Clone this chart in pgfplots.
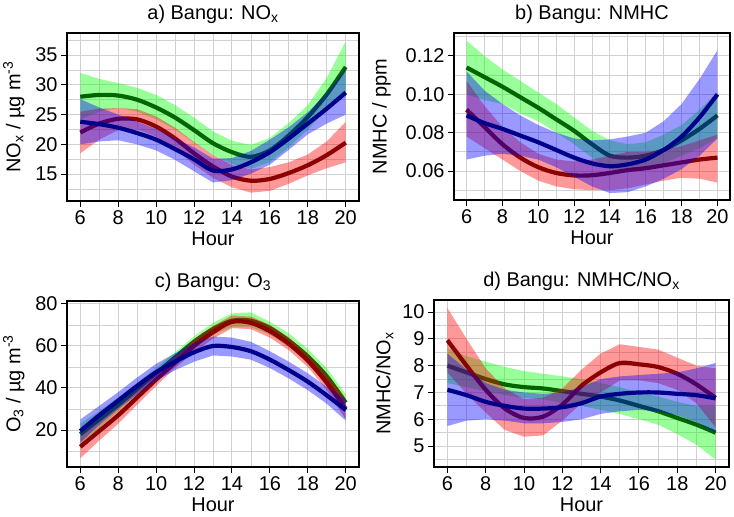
\documentclass[border=0pt]{standalone}
\usepackage{fontspec}
\setmainfont{Liberation Sans}
\usepackage{pgfplots}
\pgfplotsset{compat=1.18}
\usepackage{pgfplotstable}

\definecolor{lgrid}{gray}{0.82}
\definecolor{dgreen}{HTML}{006400}
\definecolor{dred}{HTML}{8B0000}
\definecolor{dblue}{HTML}{00008B}

% fitted curves (g = green, r = red, b = blue)
\pgfplotstableread{
h  g    r    b
6  28.0 22.0 23.8
7  28.3 23.5 23.4
8  28.2 24.3 22.8
9  27.5 24.2 21.9
10 26.2 23.0 20.8
11 24.5 21.0 19.2
12 22.4 18.5 17.5
13 20.2 16.3 15.6
14 18.7 14.6 15.8
15 17.9 13.9 17.0
16 19.0 14.2 18.7
17 21.5 15.2 21.0
18 24.6 16.5 23.5
19 28.4 18.2 26.0
20 33.0 20.3 28.7
}\noxfit
% confidence bands: upper edge 6->20, then lower edge 20->6
\pgfplotstableread{
h  g    r    b
6  32.0 25.5 27.6
7  31.0 26.0 26.2
8  30.3 26.1 25.0
9  29.5 25.9 23.8
10 28.3 24.7 22.6
11 26.6 22.8 21.0
12 24.5 20.4 19.5
13 22.2 18.2 17.6
14 20.6 16.5 17.7
15 19.9 15.8 18.9
16 21.1 16.2 20.8
17 23.6 17.0 22.9
18 26.6 18.3 25.4
19 31.2 20.5 28.6
20 37.3 23.8 32.6
20 29.0 17.0 25.0
19 25.8 16.0 23.5
18 22.5 14.8 21.7
17 19.5 13.4 19.1
16 17.0 12.2 16.6
15 15.9 11.9 15.1
14 16.7 12.8 14.0
13 18.2 14.4 13.6
12 20.3 16.6 15.5
11 22.5 19.2 17.4
10 24.2 21.3 19.0
9  25.5 22.5 20.0
8  26.1 22.4 20.7
7  25.5 20.8 20.5
6  24.2 18.5 20.0
}\noxband

\pgfplotstableread{
h  g      r      b
6  0.114  0.092  0.089
7  0.109  0.083  0.085
8  0.104  0.074  0.082
9  0.0985 0.067  0.0785
10 0.093  0.062  0.075
11 0.087  0.059  0.071
12 0.081  0.0577 0.067
13 0.074  0.0578 0.064
14 0.068  0.059  0.0625
15 0.067  0.0605 0.0635
16 0.068  0.0615 0.066
17 0.071  0.063  0.071
18 0.076  0.0645 0.078
19 0.082  0.066  0.088
20 0.089  0.067  0.100
}\nmhcfit
\pgfplotstableread{
h  g     r      b
6  0.128 0.107  0.112
7  0.120 0.094  0.102
8  0.113 0.083  0.095
9  0.107 0.075  0.089
10 0.101 0.069  0.084
11 0.095 0.066  0.080
12 0.088 0.065  0.077
13 0.081 0.066  0.076
14 0.076 0.068  0.0765
15 0.074 0.070  0.078
16 0.075 0.070  0.080
17 0.079 0.071  0.086
18 0.084 0.073  0.095
19 0.092 0.076  0.108
20 0.101 0.079  0.123
20 0.077 0.054  0.077
19 0.072 0.056  0.068
18 0.068 0.0565 0.061
17 0.064 0.055  0.056
16 0.061 0.053  0.052
15 0.060 0.051  0.049
14 0.061 0.050  0.0485
13 0.067 0.050  0.052
12 0.074 0.0505 0.057
11 0.080 0.052  0.062
10 0.086 0.055  0.066
9  0.090 0.060  0.068
8  0.095 0.066  0.069
7  0.097 0.072  0.068
6  0.100 0.078  0.066
}\nmhcband

\pgfplotstableread{
h  g    r    b
6  18.0 12.0 19.5
7  25.0 19.5 27.0
8  32.0 27.0 34.0
9  39.5 35.5 41.0
10 47.0 44.0 47.5
11 54.5 52.0 52.5
12 62.0 60.0 57.0
13 68.0 66.5 60.0
14 72.0 71.5 59.5
15 72.0 71.0 57.5
16 68.5 67.0 53.5
17 62.5 61.0 48.5
18 55.0 53.0 43.0
19 45.5 42.5 36.5
20 33.0 30.0 29.5
}\othreefit
\pgfplotstableread{
h  g    r    b
6  23.0 17.5 25.0
7  29.0 24.0 31.5
8  35.5 31.0 38.0
9  42.5 39.0 45.0
10 49.5 47.0 51.5
11 57.0 55.0 56.5
12 64.5 63.0 61.5
13 71.0 69.5 64.5
14 75.5 74.5 64.0
15 76.0 74.0 62.0
16 71.5 70.0 57.5
17 66.0 64.0 52.5
18 58.5 56.0 47.0
19 49.5 46.5 40.5
20 37.0 35.0 34.5
20 29.0 25.0 24.5
19 42.0 39.0 32.5
18 52.0 50.0 39.0
17 59.5 58.0 44.5
16 65.5 64.0 49.5
15 69.0 68.0 53.5
14 69.0 68.5 55.0
13 65.5 63.5 55.5
12 59.5 57.0 52.5
11 52.0 49.5 48.5
10 44.5 41.0 43.5
9  37.0 32.0 37.0
8  29.0 23.0 30.0
7  21.0 15.0 22.5
6  13.0 6.5  14.0
}\othreeband

\pgfplotstableread{
h  g    r    b
6  8.00 8.95 7.10
7  7.75 8.00 6.90
8  7.50 7.10 6.65
9  7.30 6.40 6.50
10 7.20 6.05 6.40
11 7.15 6.10 6.40
12 7.05 6.55 6.45
13 6.95 7.25 6.60
14 6.85 7.75 6.85
15 6.70 8.10 6.95
16 6.50 8.05 7.00
17 6.30 7.95 7.00
18 6.05 7.70 6.95
19 5.80 7.30 6.90
20 5.50 6.80 6.78
}\ratiofit
\pgfplotstableread{
h  g    r     b
6  8.65 10.15 8.45
7  8.35 9.00  7.85
8  8.15 7.90  7.35
9  7.95 7.15  7.10
10 7.80 6.75  7.00
11 7.70 6.80  6.95
12 7.60 7.15  7.00
13 7.50 7.85  7.20
14 7.35 8.45  7.50
15 7.20 8.80  7.60
16 7.00 8.70  7.65
17 6.85 8.60  7.70
18 6.65 8.30  7.75
19 6.50 8.00  7.90
20 6.50 7.90  8.10
20 4.50 5.70  5.50
19 5.05 6.60  5.90
18 5.45 7.10  6.15
17 5.80 7.35  6.30
16 6.00 7.45  6.35
15 6.20 7.45  6.30
14 6.35 7.00  6.20
13 6.50 6.60  6.00
12 6.60 5.95  5.90
11 6.75 5.40  5.85
10 6.80 5.35  5.85
9  6.90 5.60  5.95
8  7.05 6.25  6.00
7  7.20 6.95  5.95
6  7.35 7.75  5.75
}\ratioband

\pgfplotsset{
  panel/.style={
    scale only axis, anchor=south west,
    xmin=5.3, xmax=20.7,
    xtick={6,8,...,20}, minor xtick={7,9,...,19},
    grid=both,
    major grid style={lgrid, line width=1bp},
    minor grid style={lgrid, line width=0.8bp},
    axis line style={black, line width=1.3bp},
    tick align=outside, major tick length=6bp, minor tick length=0pt,
    major tick style={black, line width=1bp},
    xtick pos=left, ytick pos=left,
    ticklabel style={font=\fontsize{20}{22}\selectfont},
    label style={font=\fontsize{20}{22}\selectfont},
    title style={font=\fontsize{20}{22}\selectfont},
    ylabel shift=4bp,
    xlabel={Hour},
    /pgf/number format/assume math mode=true,
  },
}

% band then fitted line for one group: #1 band table, #2 fit table, #3 column, #4 band colour, #5 line colour
\newcommand{\grp}[5]{%
  \addplot[fill=#4, fill opacity=0.4, draw=none] table[x=h, y=#3] {#1};
  \addplot[#5, line width=4.2bp, smooth] table[x=h, y=#3] {#2};
}

\begin{document}
\begin{tikzpicture}
\path[use as bounding box] (0,0) rectangle (734bp,517bp);

\begin{axis}[panel, at={(67bp,316bp)}, width=292bp, height=168bp,
    ymin=10.5, ymax=38.7,
    ytick={15,20,...,35}, minor ytick={12.5,17.5,...,37.5},
    title={a) Bangu: NO\textsubscript{x}},
    ylabel={NO\textsubscript{x} / µg m\textsuperscript{-3}}]
\grp{\noxband}{\noxfit}{g}{green}{dgreen}
\grp{\noxband}{\noxfit}{r}{red}{dred}
\grp{\noxband}{\noxfit}{b}{blue}{dblue}
\end{axis}

\begin{axis}[panel, at={(454bp,317bp)}, width=276bp, height=167bp,
    ymin=0.0449, ymax=0.132,
    ytick={0.06,0.08,0.10,0.12}, minor ytick={0.05,0.07,0.09,0.11,0.13},
    yticklabel style={/pgf/number format/.cd, fixed, fixed zerofill, precision=2},
    scaled y ticks=false, ylabel shift=8bp,
    title={b) Bangu: NMHC},
    ylabel={NMHC / ppm}]
\grp{\nmhcband}{\nmhcfit}{g}{green}{dgreen}
\grp{\nmhcband}{\nmhcfit}{r}{red}{dred}
\grp{\nmhcband}{\nmhcfit}{b}{blue}{dblue}
\end{axis}

\begin{axis}[panel, at={(67bp,50bp)}, width=292bp, height=166bp,
    ymin=2.4, ymax=81.4,
    ytick={20,40,60,80}, minor ytick={10,30,50,70},
    title={c) Bangu: O\textsubscript{3}},
    ylabel={O\textsubscript{3} / µg m\textsuperscript{-3}}]
\grp{\othreeband}{\othreefit}{g}{green}{dgreen}
\grp{\othreeband}{\othreefit}{r}{red}{dred}
\grp{\othreeband}{\othreefit}{b}{blue}{dblue}
\end{axis}

\begin{axis}[panel, at={(434bp,50bp)}, width=295bp, height=167bp,
    ymin=4.22, ymax=10.45,
    ytick={5,6,...,10}, minor ytick={4.5,5.5,...,9.5},
    ylabel shift=2bp,
    title={d) Bangu: NMHC/NO\textsubscript{x}},
    ylabel={NMHC/NO\textsubscript{x}}]
\grp{\ratioband}{\ratiofit}{g}{green}{dgreen}
\grp{\ratioband}{\ratiofit}{r}{red}{dred}
\grp{\ratioband}{\ratiofit}{b}{blue}{dblue}
\end{axis}
\end{tikzpicture}
\end{document}
